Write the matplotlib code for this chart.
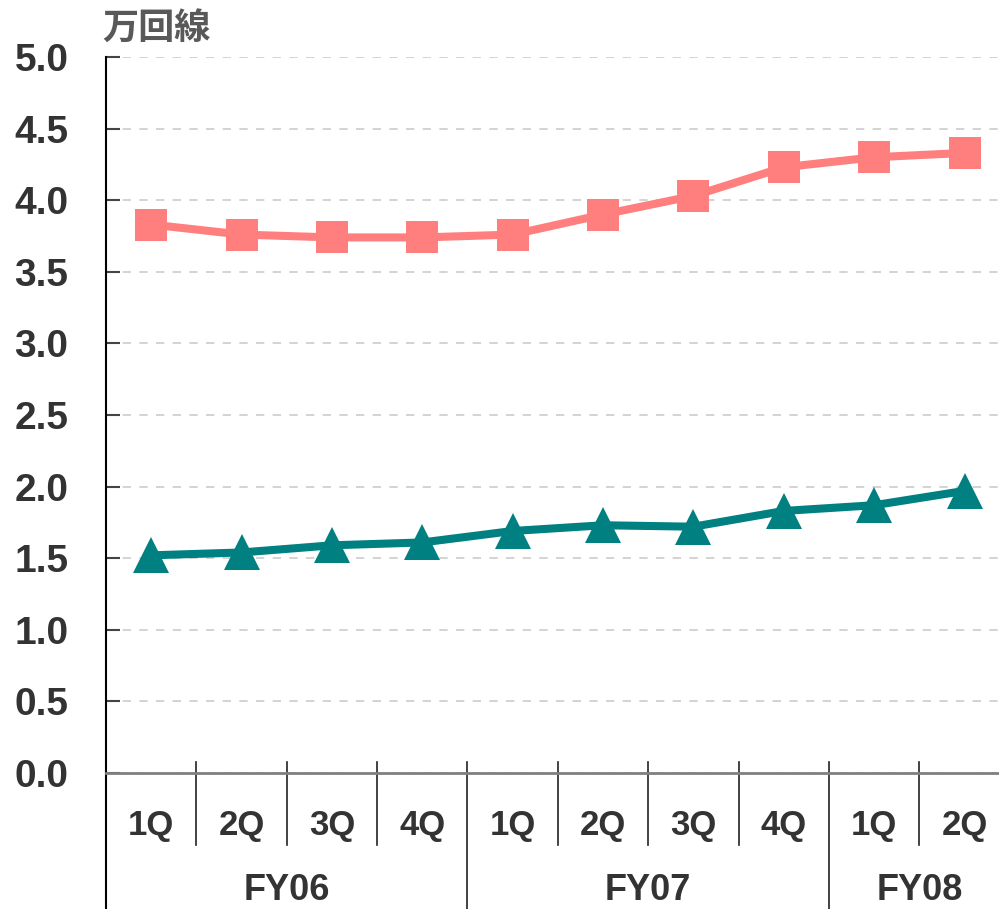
import numpy as np
import matplotlib.pyplot as plt

plt.rcParams['font.family'] = ['Liberation Sans', 'Noto Sans CJK JP', 'DejaVu Sans']

quarters = ['1Q', '2Q', '3Q', '4Q', '1Q', '2Q', '3Q', '4Q', '1Q', '2Q']
years = ['FY06', 'FY07', 'FY08']
year_spans = [(0, 4), (4, 8), (8, 10)]
pink_values = [3.83, 3.76, 3.74, 3.74, 3.76, 3.90, 4.03, 4.23, 4.30, 4.33]
teal_values = [1.52, 1.54, 1.59, 1.61, 1.69, 1.73, 1.72, 1.83, 1.87, 1.97]
y_ticks = np.arange(0, 5.01, 0.5)

fig = plt.figure(figsize=(9.99, 9.09), dpi=100)
W, H = 999, 909
ax = fig.add_axes([106 / W, (H - 773) / H, 903.7 / W, 716 / H])

x = np.arange(len(quarters)) + 0.5
ax.plot(x, pink_values, color='#FF7F7F', lw=5.8, marker='s', ms=23.5, mew=0, zorder=3)
ax.plot(x, teal_values, color='#008080', lw=5.8, marker='^', ms=25.5, mew=0, zorder=3)

ax.set_xlim(0, len(quarters))
ax.set_ylim(0, 5)
ax.set_yticks(y_ticks)
ax.set_yticklabels([f'{v:.1f}' for v in y_ticks], fontsize=28, fontweight='bold', color='#333333')
ax.tick_params(axis='y', direction='in', length=10, width=1.5, color='#444444', pad=27)
ax.set_xticks([])
ax.grid(axis='y', color='#cccccc', linestyle=(0, (5, 5)), linewidth=1.2)
ax.set_axisbelow(True)

for s in ['top', 'right']:
    ax.spines[s].set_visible(False)
ax.spines['left'].set_color('black')
ax.spines['left'].set_linewidth(1.5)
ax.spines['bottom'].set_color('#808080')
ax.spines['bottom'].set_linewidth(2)

# extended y axis and category dividers below the plot
ax.plot([0, 0], [0, -136 / 716], transform=ax.get_xaxis_transform(), color='black', lw=1.5, clip_on=False)
year_bounds = [s for s, e in year_spans[1:]]
for b in range(1, len(quarters)):
    bottom = -136 / 716 if b in year_bounds else -72 / 716
    ax.plot([b, b], [11 / 716, bottom], transform=ax.get_xaxis_transform(), color='#222222', lw=1.2, clip_on=False)

for xi, q in zip(x, quarters):
    ax.text(xi, -53 / 716, q, transform=ax.get_xaxis_transform(), ha='center', va='center',
            fontsize=25, fontweight='bold', color='#333333')
for (s, e), yr in zip(year_spans, years):
    ax.text((s + e) / 2, -117 / 716, yr, transform=ax.get_xaxis_transform(), ha='center', va='center',
            fontsize=26, fontweight='bold', color='#333333')

fig.text(102 / W, 1 - 28 / H, '万回線', ha='left', va='center', fontsize=26, fontweight='bold',
         color='#595959', family=['Noto Sans CJK JP', 'DejaVu Sans'])

fig.savefig('out.png', dpi=100)
